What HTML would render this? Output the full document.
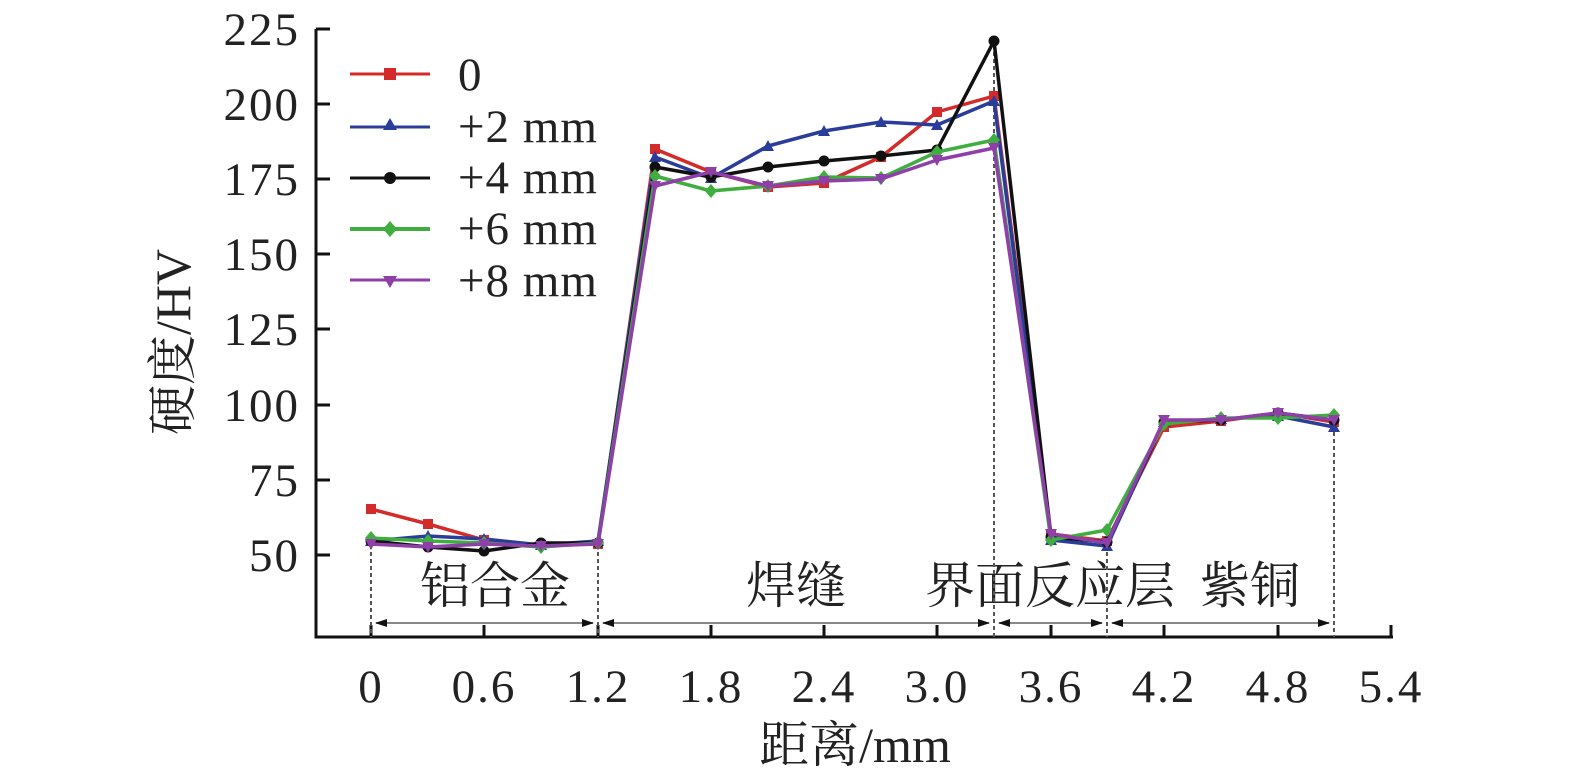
<!DOCTYPE html>
<html><head><meta charset="utf-8"><style>
body{margin:0;background:#fff}
svg{display:block}
text{font-family:"Liberation Serif","Noto Serif CJK SC",serif;fill:#222}
</style></head><body>
<svg width="1575" height="780" viewBox="0 0 1575 780">
<defs>
<marker id="mr" markerWidth="14" markerHeight="14" refX="7" refY="7" markerUnits="userSpaceOnUse"><rect x="2" y="2" width="10" height="10" fill="#d32a2a"/></marker>
<marker id="mb" markerWidth="14" markerHeight="14" refX="7" refY="7" markerUnits="userSpaceOnUse"><polygon points="7,1 13,12 1,12" fill="#2b3d9a"/></marker>
<marker id="mk" markerWidth="14" markerHeight="14" refX="7" refY="7" markerUnits="userSpaceOnUse"><circle cx="7" cy="7" r="5.5" fill="#111"/></marker>
<marker id="mg" markerWidth="14" markerHeight="14" refX="7" refY="7" markerUnits="userSpaceOnUse"><polygon points="7,0 13,7 7,14 1,7" fill="#3fae3f"/></marker>
<marker id="mp" markerWidth="14" markerHeight="14" refX="7" refY="7" markerUnits="userSpaceOnUse"><polygon points="1,2 13,2 7,13" fill="#8e3fa8"/></marker>
<marker id="ah" markerWidth="12" markerHeight="8" refX="11" refY="4" orient="auto" markerUnits="userSpaceOnUse"><polygon points="0,0 12,4 0,8" fill="#111"/></marker>
<marker id="at" markerWidth="12" markerHeight="8" refX="1" refY="4" orient="auto" markerUnits="userSpaceOnUse"><polygon points="12,0 0,4 12,8" fill="#111"/></marker>
</defs>
<g stroke="#111" stroke-width="3" fill="none">
<polyline points="316,29 316,637 1393,637"/>
<line x1="316" y1="29" x2="330" y2="29"/><line x1="316" y1="104" x2="330" y2="104"/><line x1="316" y1="179" x2="330" y2="179"/><line x1="316" y1="254" x2="330" y2="254"/><line x1="316" y1="329" x2="330" y2="329"/><line x1="316" y1="405" x2="330" y2="405"/><line x1="316" y1="480" x2="330" y2="480"/><line x1="316" y1="555" x2="330" y2="555"/>
<line x1="371" y1="637" x2="371" y2="625"/><line x1="484" y1="637" x2="484" y2="625"/><line x1="598" y1="637" x2="598" y2="625"/><line x1="711" y1="637" x2="711" y2="625"/><line x1="824" y1="637" x2="824" y2="625"/><line x1="937" y1="637" x2="937" y2="625"/><line x1="1051" y1="637" x2="1051" y2="625"/><line x1="1164" y1="637" x2="1164" y2="625"/><line x1="1278" y1="637" x2="1278" y2="625"/><line x1="1391" y1="637" x2="1391" y2="625"/>
</g>
<g font-size="47" text-anchor="end" letter-spacing="2">
<text x="300" y="45">225</text><text x="300" y="120">200</text><text x="300" y="195">175</text><text x="300" y="270">150</text><text x="300" y="345">125</text><text x="300" y="421">100</text><text x="300" y="496">75</text><text x="300" y="571">50</text>
</g>
<g font-size="47" text-anchor="middle" letter-spacing="2">
<text x="371" y="702">0</text><text x="484" y="702">0.6</text><text x="598" y="702">1.2</text><text x="711" y="702">1.8</text><text x="824" y="702">2.4</text><text x="937" y="702">3.0</text><text x="1051" y="702">3.6</text><text x="1164" y="702">4.2</text><text x="1278" y="702">4.8</text><text x="1391" y="702">5.4</text>
</g>
<g font-size="50" text-anchor="middle">
<text x="855" y="762">距离/mm</text>
<text transform="translate(190,342) rotate(-90)">硬度/HV</text>
<text x="495" y="603">铝合金</text><text x="796" y="603">焊缝</text><text x="1050" y="603">界面反应层</text><text x="1250" y="603">紫铜</text>
</g>
<g stroke="#555" stroke-width="2" stroke-dasharray="4,3">
<line x1="371" y1="545" x2="371" y2="637"/><line x1="598" y1="545" x2="598" y2="637"/><line x1="994" y1="45" x2="994" y2="637"/><line x1="1107" y1="545" x2="1107" y2="637"/><line x1="1334" y1="425" x2="1334" y2="637"/>
</g>
<g stroke="#888" stroke-width="2">
<line x1="376" y1="623" x2="593" y2="623" marker-start="url(#at)" marker-end="url(#ah)"/>
<line x1="603" y1="623" x2="989" y2="623" marker-start="url(#at)" marker-end="url(#ah)"/>
<line x1="999" y1="623" x2="1102" y2="623" marker-start="url(#at)" marker-end="url(#ah)"/>
<line x1="1112" y1="623" x2="1329" y2="623" marker-start="url(#at)" marker-end="url(#ah)"/>
</g>
<g fill="none" stroke-width="3.5" stroke-linejoin="round">
<polyline stroke="#d32a2a" marker-start="url(#mr)" marker-mid="url(#mr)" marker-end="url(#mr)" points="371,509 428,524 484,540 541,545 598,544 655,149 711,172 768,187 824,183 881,157 937,112 994,96 1051,534 1107,541 1164,427 1221,421 1278,413 1334,422"/>
<polyline stroke="#2b3d9a" marker-start="url(#mb)" marker-mid="url(#mb)" marker-end="url(#mb)" points="371,541 428,536 484,539 541,545 598,541 655,157 711,178 768,146 824,131 881,122 937,125 994,101 1051,540 1107,546 1164,422 1221,419 1278,416 1334,427"/>
<polyline stroke="#111" marker-start="url(#mk)" marker-mid="url(#mk)" marker-end="url(#mk)" points="371,541 428,547 484,551 541,543 598,543 655,167 711,177 768,167 824,161 881,156 937,150 994,41 1051,537 1107,542 1164,422 1221,420 1278,413 1334,420"/>
<polyline stroke="#3fae3f" marker-start="url(#mg)" marker-mid="url(#mg)" marker-end="url(#mg)" points="371,538 428,541 484,543 541,547 598,543 655,176 711,191 768,186 824,177 881,178 937,152 994,140 1051,540 1107,530 1164,424 1221,418 1278,418 1334,415"/>
<polyline stroke="#8e3fa8" marker-start="url(#mp)" marker-mid="url(#mp)" marker-end="url(#mp)" points="371,544 428,547 484,544 541,546 598,544 655,186 711,172 768,186 824,181 881,179 937,160 994,148 1051,534 1107,543 1164,420 1221,420 1278,413 1334,420"/>
</g>
<g stroke-width="3">
<line x1="350" y1="74" x2="430" y2="74" stroke="#d32a2a"/><rect x="384" y="68" width="12" height="12" fill="#d32a2a"/>
<line x1="350" y1="127" x2="430" y2="127" stroke="#2b3d9a"/><polygon points="390,118 397,130 383,130" fill="#2b3d9a"/>
<line x1="350" y1="178" x2="430" y2="178" stroke="#111"/><circle cx="390" cy="178" r="6" fill="#111"/>
<line x1="350" y1="229" x2="430" y2="229" stroke="#3fae3f" stroke-width="4"/><polygon points="390,221 397,229 390,237 383,229" fill="#3fae3f"/>
<line x1="350" y1="280" x2="430" y2="280" stroke="#8e3fa8"/><polygon points="383,276 397,276 390,288" fill="#8e3fa8"/>
</g>
<g font-size="47" letter-spacing="1">
<text x="458" y="90">0</text><text x="458" y="142">+2 mm</text><text x="458" y="193">+4 mm</text><text x="458" y="244">+6 mm</text><text x="458" y="296">+8 mm</text>
</g>
</svg>
</body></html>
